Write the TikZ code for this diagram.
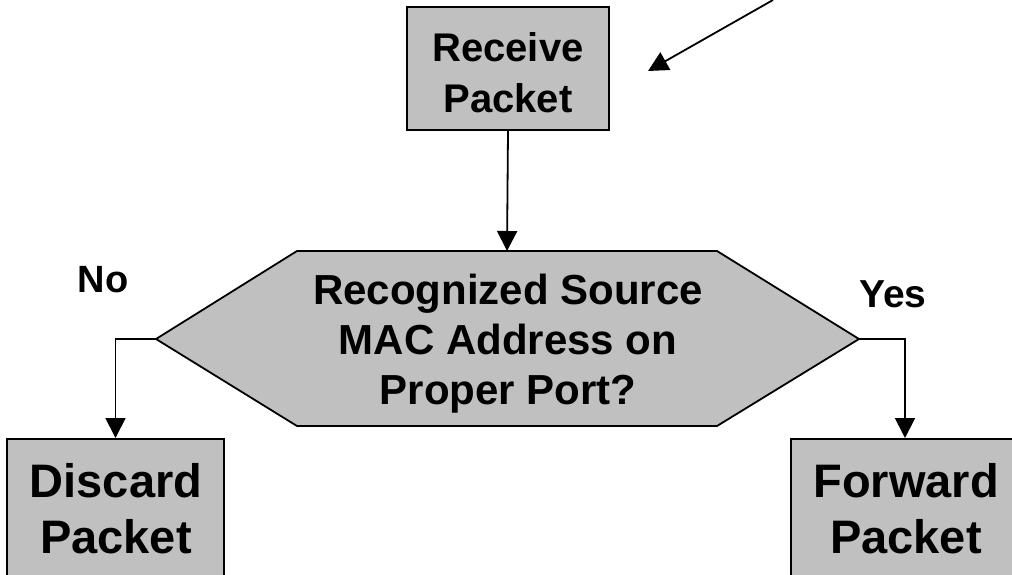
\documentclass[tikz,border=0pt]{standalone}
\usepackage{fontspec}
\setmainfont{Liberation Sans}
\usepackage{graphicx}
\usetikzlibrary{arrows.meta}
\definecolor{boxgray}{HTML}{C0C0C0}
\newcommand{\txtblk}[3]{\parbox[t]{560pt}{\centering\fontsize{#1}{#2}\selectfont\bfseries #3}}
\tikzset{
  box/.style={draw=black, fill=boxgray, line width=2pt, inner sep=0pt, rectangle},
  lbl/.style={anchor=base, inner sep=0pt},
  conn/.style={line width=1.8pt, -{Triangle[length=20pt,width=20pt]}},
}
\begin{document}
\begin{tikzpicture}[x=1pt,y=-1pt]
\clip (0,0) rectangle (1012,575);
\fill[white] (0,0) rectangle (1012,575);
% boxes
\node[box, minimum width=202pt, minimum height=123pt] (rcv) at (508,68.5) {};
\node[box, minimum width=217pt, minimum height=161pt] (dis) at (115.5,519.5) {};
\node[box, minimum width=228pt, minimum height=161pt] (fwd) at (905,519.5) {};
% hexagon
\coordinate (hL) at (156,339);
\coordinate (hTL) at (297,251);
\coordinate (hT) at (507,251);
\coordinate (hTR) at (717,251);
\coordinate (hR) at (859,339);
\coordinate (hBR) at (717,426);
\coordinate (hBL) at (297,426);
\draw[fill=boxgray, line width=1.8pt, line join=miter] (hL) -- (hTL) -- (hTR) -- (hR) -- (hBR) -- (hBL) -- cycle;
% texts
\node[lbl] (trcv) at (508,62) {\txtblk{40}{51}{Receive\\Packet}};
\node[lbl] (thex) at (508,304) {\txtblk{42}{50}{Recognized Source\\MAC Address on\\Proper Port?}};
\node[lbl] (tdis) at (116,497) {\txtblk{47}{56}{Discard\\Packet}};
\node[lbl] (tfwd) at (906,497) {\txtblk{47}{56}{Forward\\Packet}};
\node[lbl] (tno) at (103,292) {\txtblk{38}{40}{No}};
\node[lbl] (tyes) at (893,307) {\txtblk{39}{40}{Yes}};
% connectors
\coordinate (src) at (773,0);
\coordinate (srctip) at (648,71);
\draw[conn] (src) -- (srctip);
\draw[conn] (rcv.south) -- (hT);
\draw[conn] (hL) -| (dis.north);
\draw[conn] (hR) -| (fwd.north);
\end{tikzpicture}
\end{document}
